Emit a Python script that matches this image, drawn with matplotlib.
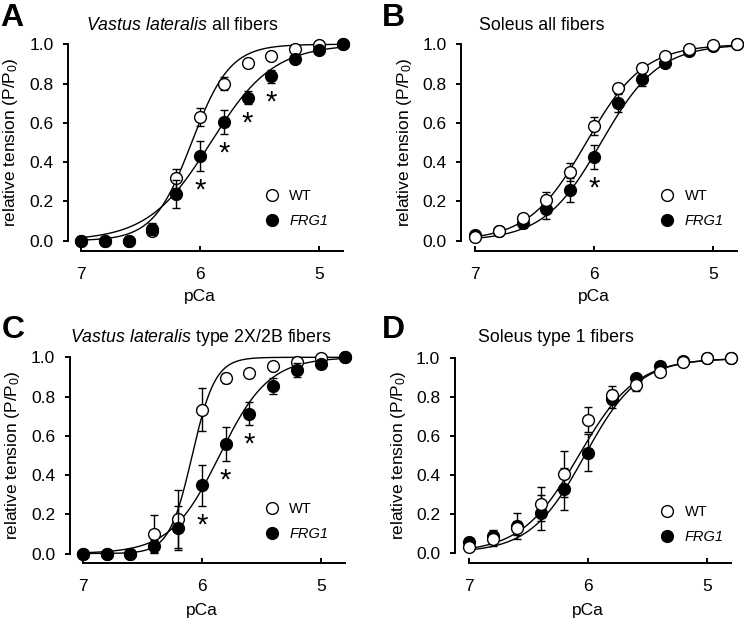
import numpy as np
import matplotlib
matplotlib.use("Agg")
import matplotlib.pyplot as plt
from matplotlib.lines import Line2D

plt.rcParams['font.family'] = ['Liberation Sans', 'DejaVu Sans']
plt.rcParams['mathtext.fontset'] = 'custom'
plt.rcParams['mathtext.rm'] = 'Liberation Sans'
plt.rcParams['mathtext.it'] = 'Liberation Sans:italic'
plt.rcParams['mathtext.bf'] = 'Liberation Sans:bold'

# ---------------- data ----------------
pca = [7.0, 6.8, 6.6, 6.4, 6.2, 6.0, 5.8, 5.6, 5.4, 5.2, 5.0, 4.8]
xticks = [7, 6, 5]
ytick_vals = [0.0, 0.2, 0.4, 0.6, 0.8, 1.0]

A_wt = [0.0, 0.0, 0.0, 0.05, 0.317, 0.63, 0.80, 0.907, 0.94, 0.978, 0.998, 1.0]
A_wt_err = [0, 0, 0, 0.02, 0.05, 0.047, 0.035, 0.01, 0.01, 0.01, 0.005, 0]
A_frg = [0.0, 0.0, 0.0, 0.06, 0.237, 0.432, 0.605, 0.729, 0.837, 0.927, 0.97, 1.0]
A_frg_err = [0, 0, 0, 0.03, 0.07, 0.075, 0.06, 0.035, 0.034, 0.02, 0.015, 0]
A_sig = [6.0, 5.8, 5.6, 5.4]
A_fit_wt = (6.07, 2.7)
A_fit_frg = (5.91, 1.65)

B_wt = [0.017, 0.05, 0.117, 0.207, 0.35, 0.585, 0.775, 0.88, 0.94, 0.978, 0.995, 1.0]
B_wt_err = [0.01, 0.01, 0.015, 0.04, 0.047, 0.045, 0.025, 0.01, 0.01, 0.01, 0.005, 0]
B_frg = [0.029, 0.05, 0.088, 0.16, 0.258, 0.427, 0.70, 0.825, 0.907, 0.966, 0.99, 1.0]
B_frg_err = [0.01, 0.01, 0.025, 0.047, 0.063, 0.06, 0.046, 0.035, 0.015, 0.01, 0.005, 0]
B_sig = [6.0]
B_fit_wt = (6.065, 1.8)
B_fit_frg = (5.94, 1.8)

C_wt = [0.0, 0.0, 0.0, 0.1, 0.176, 0.732, 0.893, 0.92, 0.956, 0.978, 0.995, 1.0]
C_wt_err = [0, 0, 0, 0.095, 0.15, 0.11, 0.025, 0.01, 0.01, 0.01, 0.005, 0]
C_frg = [0.0, 0.0, 0.0, 0.037, 0.13, 0.347, 0.558, 0.712, 0.854, 0.936, 0.966, 1.0]
C_frg_err = [0, 0, 0, 0.03, 0.11, 0.106, 0.087, 0.058, 0.04, 0.035, 0.02, 0]
C_sig = [6.0, 5.8, 5.6]
C_fit_wt = (6.08, 4.5)
C_fit_frg = (5.85, 2.1)

D_wt = [0.031, 0.073, 0.128, 0.252, 0.405, 0.685, 0.813, 0.864, 0.929, 0.983, 1.0, 1.0]
D_wt_err = [0.01, 0.04, 0.036, 0.088, 0.12, 0.063, 0.047, 0.03, 0.01, 0.01, 0.005, 0]
D_frg = [0.053, 0.087, 0.138, 0.206, 0.328, 0.515, 0.79, 0.898, 0.96, 0.988, 1.0, 1.0]
D_frg_err = [0.01, 0.03, 0.065, 0.09, 0.107, 0.095, 0.045, 0.017, 0.01, 0.01, 0.005, 0]
D_sig = []
D_fit_wt = (6.08, 1.8)
D_fit_frg = (6.03, 1.9)

titles = ["$\\it{Vastus\\ lateralis}$ all fibers",
          "Soleus all fibers",
          "$\\it{Vastus\\ lateralis}$ type 2X/2B fibers",
          "Soleus type 1 fibers"]
letters = ["A", "B", "C", "D"]
legend_labels = ["WT", "FRG1"]

# ---------------- layout (pixels) ----------------
W, H = 744, 627
fig = plt.figure(figsize=(W / 100, H / 100), dpi=100)

def fx(px):
    return px / W

def fy(py):
    return 1 - py / H

geo = [
    dict(left=68.3, x7=81.0, y0=240.7, y1=44.3, xs=250.7, lx=271.7, ly=195.7, tx=86, ty=30, Lx=0, Ly=26, ylx=11, xly=297),
    dict(left=461.5, x7=475.0, y0=240.7, y1=44.3, xs=250.7, lx=667.0, ly=195.7, tx=479, ty=30, Lx=382, Ly=26, ylx=404, xly=297),
    dict(left=70.0, x7=82.7, y0=553.5, y1=357.3, xs=563.3, lx=271.7, ly=509.0, tx=70, ty=342, Lx=2, Ly=338, ylx=13, xly=610),
    dict(left=455.0, x7=469.3, y0=552.7, y1=358.3, xs=563.3, lx=667.3, ly=511.7, tx=478, ty=342, Lx=382, Ly=338, ylx=398, xly=610),
]

panels = [
    (A_wt, A_wt_err, A_frg, A_frg_err, A_sig, A_fit_wt, A_fit_frg, True),
    (B_wt, B_wt_err, B_frg, B_frg_err, B_sig, B_fit_wt, B_fit_frg, False),
    (C_wt, C_wt_err, C_frg, C_frg_err, C_sig, C_fit_wt, C_fit_frg, True),
    (D_wt, D_wt_err, D_frg, D_frg_err, D_sig, D_fit_wt, D_fit_frg, False),
]

XS = 119.0   # px per pCa unit
XR = 4.74    # right x limit


def hill(p, p50, n):
    p = np.asarray(p)
    return 1.0 / (1.0 + 10 ** (n * (p - p50)))


for i, (g, pdata) in enumerate(zip(geo, panels)):
    wt, wte, frg, frge, sig, fwt, ffrg, frg_top = pdata
    ys = g['y0'] - g['y1']
    right_px = g['x7'] + XS * (7 - XR)
    top_px = g['y1'] - 0.042 * ys
    ax = fig.add_axes([fx(g['left']), fy(g['xs']),
                       (right_px - g['left']) / W, (g['xs'] - top_px) / H])
    ax.set_xlim(7 + (g['x7'] - g['left']) / XS, XR)
    ax.set_ylim(-(g['xs'] - g['y0']) / ys, 1.042)

    # fitted curves
    xc = np.linspace(7.0, 4.8, 300)
    ax.plot(xc, hill(xc, *fwt), color='black', lw=1.0, zorder=2)
    ax.plot(xc, hill(xc, *ffrg), color='black', lw=1.0, zorder=2)

    z_wt, z_frg = (3, 4) if frg_top else (4, 3)
    ax.errorbar(pca, wt, yerr=wte, fmt='o', ms=8.5, mfc='white', mec='black',
                mew=1.0, ecolor='black', elinewidth=1.0, capsize=2.6,
                capthick=1.0, zorder=z_wt)
    ax.errorbar(pca, frg, yerr=frge, fmt='o', ms=8.5, mfc='black', mec='black',
                mew=1.0, ecolor='black', elinewidth=1.0, capsize=2.6,
                capthick=1.0, zorder=z_frg)

    # significance asterisks (below FRG1 error bar)
    for s in sig:
        k = pca.index(s)
        ax.text(s, frg[k] - frge[k] - 0.10, '*', ha='center', va='center',
                fontsize=21, zorder=5)

    # axes styling
    for side in ['top', 'right']:
        ax.spines[side].set_visible(False)
    ax.spines['left'].set_bounds(0, 1)
    ax.spines['bottom'].set_bounds(7.0, 4.8)
    ax.spines['left'].set_linewidth(1.4)
    ax.spines['bottom'].set_linewidth(1.4)
    ax.set_xticks(xticks)
    ax.set_xticklabels([str(t) for t in xticks])
    ax.set_yticks(ytick_vals)
    ax.set_yticklabels([f"{v:.1f}" for v in ytick_vals])
    ax.tick_params(axis='x', direction='in', length=3.6, width=1.4, pad=11.5,
                   labelsize=12.5)
    ax.tick_params(axis='y', direction='out', length=3.6, width=1.4, pad=7.0,
                   labelsize=12.5)
    ax.patch.set_alpha(0)

    # labels
    ax.set_ylabel("relative tension (P/P$_0$)", fontsize=12.5)
    ax.yaxis.label.set_va('center')
    ax.yaxis.set_label_coords(fx(g['ylx']), fy((g['y0'] + g['y1']) / 2),
                              transform=fig.transFigure)
    ax.set_xlabel("pCa", fontsize=12.5)
    ax.xaxis.label.set_va('center')
    ax.xaxis.set_label_coords(fx(g['x7'] + XS), fy(g['xly']),
                              transform=fig.transFigure)

    # title and panel letter
    fig.text(fx(g['tx']), fy(g['ty']), titles[i], fontsize=12.8,
             ha='left', va='baseline')
    fig.text(fx(g['Lx']), fy(g['Ly']), letters[i], fontsize=23,
             fontweight='bold', ha='left', va='baseline')

    # legend
    handles = [Line2D([], [], ls='none', marker='o', ms=8.5, mfc='white',
                      mec='black', mew=1.0),
               Line2D([], [], ls='none', marker='o', ms=8.5, mfc='black',
                      mec='black', mew=1.0)]
    fs = 10.5
    fpx = fs * 100 / 72
    hl = 0.9
    leg = ax.legend(handles, legend_labels, loc='center left', frameon=False,
                    fontsize=fs, handlelength=hl, handletextpad=0.75,
                    borderpad=0.0, borderaxespad=0.0, labelspacing=0.75,
                    bbox_to_anchor=(fx(g['lx'] - hl * fpx / 2), fy(g['ly'] + 12.5)),
                    bbox_transform=fig.transFigure)
    leg.get_texts()[1].set_fontstyle('italic')

fig.savefig("out.png", dpi=100)
